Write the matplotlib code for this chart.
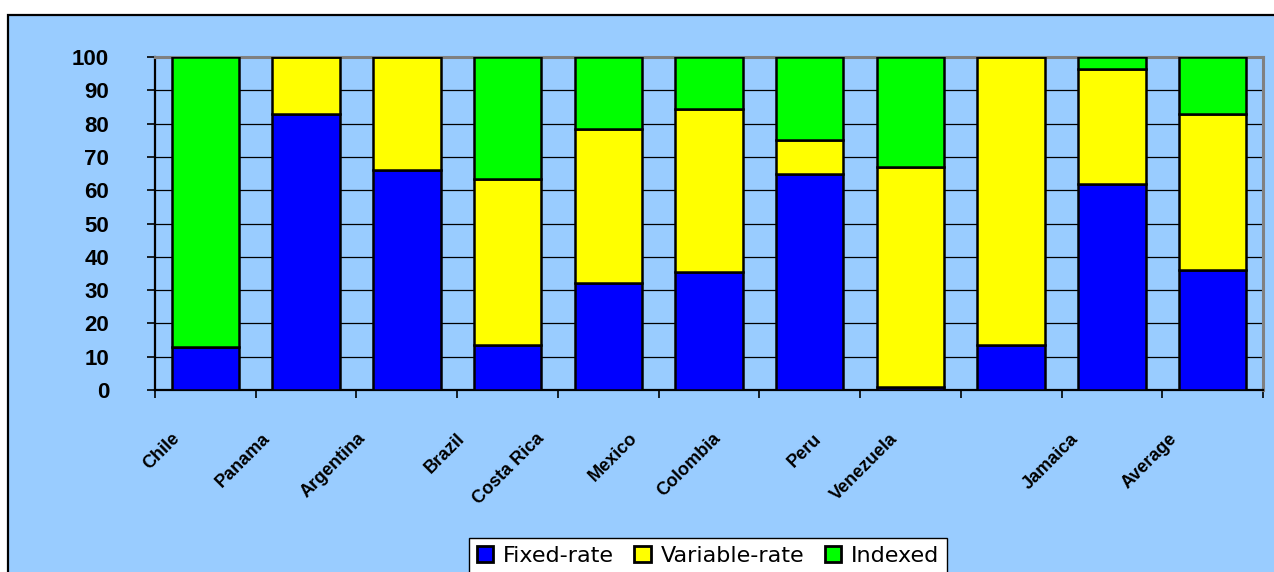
import matplotlib
matplotlib.use("Agg")
import matplotlib.pyplot as plt
from matplotlib.patches import Rectangle, Patch
import numpy as np

# Share of debt by instrument type (%)
countries = ["Chile", "Panama", "Argentina", "Brazil", "Costa Rica", "Mexico",
             "Colombia", "Peru", "Venezuela", "Jamaica", "Average"]
fixed_rate = [13, 83, 66, 13.5, 32, 35.5, 65, 1, 13.5, 62, 36]
variable_rate = [0, 17, 34, 50, 46.5, 49, 10, 66, 86.5, 34.5, 47]
indexed = [87, 0, 0, 36.5, 21.5, 15.5, 25, 33, 0, 3.5, 17]
y_ticks = list(range(0, 101, 10))

series_names = ["Fixed-rate", "Variable-rate", "Indexed"]
series_colors = ["#0000FF", "#FFFF00", "#00FF00"]

# horizontal shift (pixels) of each rotated category label from its bar centre
label_dx_px = [-28, -39, -44, -45, -67, -74, -92, -92, -116, -36, -38]
label_dy_px = 46

W, H, DPI = 1274, 572, 100
BG = "#99CCFF"

fig = plt.figure(figsize=(W / DPI, H / DPI), dpi=DPI, facecolor="white")

# light-blue chart panel with black frame, kept behind the axes
panel = Rectangle((8 / W, -0.1), 1.2, 1.1 - 15 / H, transform=fig.transFigure,
                  facecolor=BG, edgecolor="black", linewidth=1.6, clip_on=False,
                  zorder=-10)
fig.patches.append(panel)

ax = fig.add_axes([155 / W, (H - 390) / H, (1263 - 155) / W, (390 - 57) / H])
ax.set_facecolor(BG)

x = np.arange(len(countries))
bar_w = 0.67
bottom = np.zeros(len(countries))
for name, vals, col in zip(series_names, [fixed_rate, variable_rate, indexed], series_colors):
    vals = np.array(vals, dtype=float)
    ax.bar(x, vals, bar_w, bottom=bottom, color=col, edgecolor="black",
           linewidth=1.8, zorder=3, label=name)
    bottom += vals

ax.set_xlim(-0.5, len(countries) - 0.5)
ax.set_ylim(0, 100)

# gridlines
ax.set_axisbelow(True)
ax.yaxis.grid(True, color="black", linewidth=0.9)
ax.xaxis.grid(False)

# spines
for s in ["left", "bottom"]:
    ax.spines[s].set_color("black")
    ax.spines[s].set_linewidth(1.6)
for s in ["top", "right"]:
    ax.spines[s].set_color("#808080")
    ax.spines[s].set_linewidth(2.2)

# y axis
ax.set_yticks(y_ticks)
ax.set_yticklabels([str(v) for v in y_ticks], fontfamily="Liberation Sans",
                   fontweight="bold", fontsize=16)
ax.tick_params(axis="y", direction="out", length=6, width=1.2, color="black", pad=27)

# x axis: ticks at category boundaries, labels placed separately
ax.set_xticks(np.arange(-0.5, len(countries), 1.0))
ax.set_xticklabels([])
ax.tick_params(axis="x", direction="out", length=6, width=1.2, color="black")

for i, (name, dx) in enumerate(zip(countries, label_dx_px)):
    ax.annotate(name, xy=(i, 0), xycoords="data",
                xytext=(dx * 72 / DPI, -label_dy_px * 72 / DPI), textcoords="offset points",
                rotation=45, rotation_mode="anchor", ha="right", va="center",
                fontfamily="Liberation Sans", fontweight="bold", fontsize=13,
                color="black")

# legend
handles = [Patch(facecolor=c, edgecolor="black", linewidth=2) for c in series_colors]
leg = fig.legend(handles, series_names, loc="upper center",
                 bbox_to_anchor=(708 / W, 1 - 538 / H), ncol=3,
                 prop={"family": "DejaVu Sans", "size": 16},
                 frameon=True, fancybox=False, framealpha=1, edgecolor="black",
                 handlelength=0.75, handleheight=0.7, handletextpad=0.45,
                 columnspacing=0.9, borderpad=0.35, borderaxespad=0)
leg.get_frame().set_linewidth(1.0)
leg.get_frame().set_facecolor("white")

fig.savefig("out.png", dpi=DPI, facecolor="white")
